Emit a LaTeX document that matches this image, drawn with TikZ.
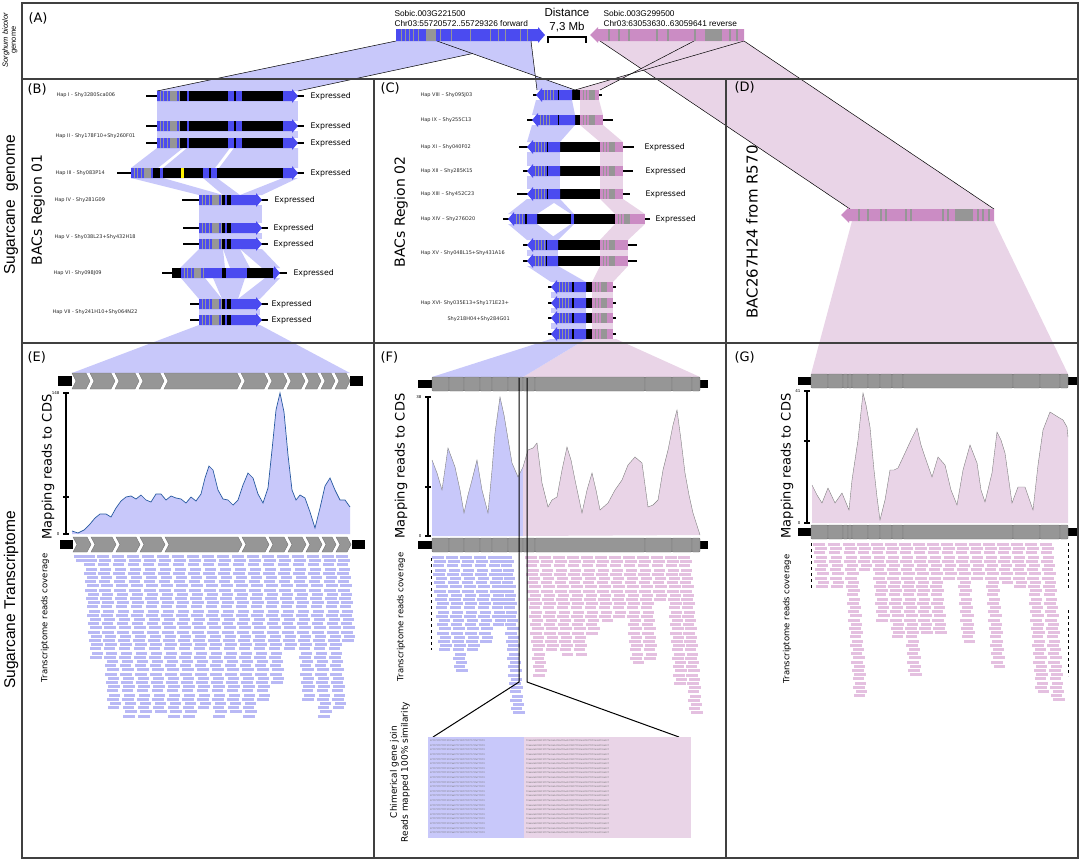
\documentclass[tikz,border=0pt]{standalone}
\usepackage{fontspec}
\setmainfont{DejaVu Sans}
\newfontfamily\narrowfont{Liberation Sans}
\usetikzlibrary{positioning}

\definecolor{geneblue}{RGB}{75,75,240}
\definecolor{bandblue}{RGB}{200,200,250}
\definecolor{genepink}{RGB}{203,140,196}
\definecolor{bandpink}{RGB}{233,212,231}
\definecolor{exongray}{RGB}{150,150,150}
\definecolor{readblue}{RGB}{185,185,245}
\definecolor{readpink}{RGB}{228,192,224}
\definecolor{covline}{RGB}{40,90,160}

\tikzset{
  whisker/.style={line width=1.4pt},
  exon/.style={fill=exongray,draw=black!55,line width=0.4pt},
  axisline/.style={line width=1.3pt},
  frame/.style={draw=black!75,line width=1.2pt},
  link/.style={line width=0.5pt},
  panellabel/.style={font=\fontsize{13}{15}\selectfont,anchor=west},
  haplabel/.style={font=\fontsize{5}{6}\selectfont,anchor=west,text=black!85},
  expressed/.style={font=\fontsize{7.8}{9}\selectfont,anchor=west},
  bigside/.style={font=\fontsize{14}{16}\selectfont,rotate=90},
  ylabel/.style={font=\fontsize{13}{15}\selectfont,rotate=90},
  covlabel/.style={font=\fontsize{8.5}{10}\selectfont,rotate=90},
  ticklabel/.style={font=\fontsize{4}{5}\selectfont,anchor=east},
  sidelabel/.style={font=\narrowfont\fontsize{15.5}{17}\selectfont,rotate=90},
  sobiclabel/.style={font=\narrowfont\fontsize{8.3}{9}\selectfont,anchor=west},
  seqtext/.style={font=\ttfamily\fontsize{2.4}{3}\selectfont,anchor=west,text=black!55,inner sep=0pt},
}

% forward gene of region 01
\newcommand{\bgene}[5]{%
  \draw[whisker] (#1,#5) -- (#4,#5);
  \fill[geneblue] (#2,#5-5) -- (#3-6,#5-5) -- (#3-6,#5-7) -- (#3,#5) -- (#3-6,#5+7) -- (#3-6,#5+5) -- (#2,#5+5) -- cycle;
  \foreach \s in {3,6,10,22} {\fill[exongray] (#2+\s,#5-5) rectangle ++(1.3,10);}
  \fill[exongray] (#2+13,#5-5) rectangle ++(7,10);
}
% reverse gene of region 02
\newcommand{\cgene}[7]{%
  \draw[whisker] (#1,#7) -- (#6,#7);
  \fill[genepink] (#4,#7-5) rectangle (#5,#7+5);
  \fill[black] (#3,#7-5) rectangle (#4,#7+5);
  \fill[geneblue] (#2,#7) -- (#2+6,#7-7) -- (#2+6,#7-5) -- (#3,#7-5) -- (#3,#7+5) -- (#2+6,#7+5) -- (#2+6,#7+7) -- cycle;
  \foreach \s in {8,11,14,17} {\fill[exongray] (#2+\s,#7-5) rectangle ++(1.3,10);}
  \fill[black] ({#2+0.6*(#3-#2)},#7-5) rectangle ++(1.6,10);
  \foreach \s in {3,6} {\fill[exongray] (#4+\s,#7-5) rectangle ++(1.3,10);}
  \fill[exongray] (#4+9,#7-5) rectangle ++(6,10);
}
\newcommand{\band}[7]{\fill[#1] (#2,#4) -- (#3,#4) -- (#6,#7) -- (#5,#7) -- cycle;}
\newcommand{\readcol}[4]{\foreach \r in {0,...,#4} {\fill[#1] ({#2+0.3*\r+2*mod(\r,2)},{#3+4.2*\r}) rectangle ++(11.5,2.9);}}

\def\covE{72/531,78/533,84/530,90/524,95/518,100/514,106/514,111/517,116/508,121/501,126/497,131/496,136/499,141/495,146/500,151/502,156/494,161/494,166/500,171/496,176/498,181/499,186/503,191/497,196/501,201/494,205/478,209/466,213/470,218/490,223/499,228/500,233/505,238/500,243/485,248/473,253/478,258/494,263/503,268/488,272/450,276/410,280/393,284/412,288/455,292/490,296/500,300/495,305/498,310/512,315/528,320/508,325/486,330/478,335/490,340/500,345/500,350/507}
\def\covFb{432/460,437/473,442/490,448/448,455/467,460/490,464/513,468/495,472/480,477/460,482/490,488/513,492/470,495/433,500/397,504/415,507/433,512/463,518/477,523/467}
\def\covFp{523/467,528/450,533/448,537/443,542/483,548/507,552/500,557/497,562/470,567/447,571/460,575/480,582/513,587/490,592/473,596/490,600/510,608/503,615/490,622/480,628/465,635/457,642/463,648/507,653/505,658/500,663/470,668/450,673/425,677/410,681/440,685/473,689/495,693/513,700/535}
\def\covG{812/485,817/495,822/503,828/488,835/503,842/493,849/510,852/480,858/440,863/393,866/405,870/427,874/470,877/497,880/520,885/500,890/470,894/470,898/468,905/453,911/440,917/428,921/445,925/457,932/477,938/457,945/465,951/490,957/505,963/470,970/445,977/463,981/490,985/502,992/473,997/432,1001/440,1005/453,1012/503,1018/487,1025/487,1033/510,1038/465,1043/430,1050/412,1058/417,1063/420,1067/427,1068/437}

\begin{document}
\begin{tikzpicture}[x=1pt,y=-1pt]
\useasboundingbox (0,0) rectangle (1084,862);

% side labels
\node[font=\narrowfont\fontsize{7.5}{8}\selectfont,rotate=90,align=center] (sorghum) at (10,40) {{\itshape Sorghum bicolor}\\genome};
\node[sidelabel] (sgenome) at (11,205) {Sugarcane\ \ genome};
\node[sidelabel] (stransc) at (11,600) {Sugarcane Transcriptome};

% (A) links
\band{bandpink}{600}{744}{41}{850}{994}{209}
\draw[link] (600,41) -- (850,209);
\draw[link] (744,41) -- (994,209);
\band{bandblue}{396}{531}{41}{157}{298}{91}
\draw[link] (396,41) -- (157,91);
\draw[link] (531,41) -- (298,91);
\fill[bandblue] (437,41) -- (531,41) -- (537,90) -- (575,90) -- cycle;
\draw[link] (437,41) -- (575,90);
\draw[link] (531,41) -- (537,90);
\fill[bandpink] (694,41) -- (744,41) -- (575,90) -- (600,90) -- cycle;
\draw[link] (744,41) -- (575,90);
\draw[link] (694,41) -- (600,90);

% (A) sorghum genes
\fill[geneblue] (396,29) -- (538,29) -- (538,27) -- (545,35) -- (538,43) -- (538,41) -- (396,41) -- cycle;
\foreach \s in {401,405,409,413,418,440,451,470,490,498,505,520,527} {\fill[exongray] (\s,29) rectangle ++(1.3,12);}
\fill[exongray] (426,29) rectangle (436,41);
\fill[genepink] (590,35) -- (598,27) -- (598,29) -- (744,29) -- (744,41) -- (598,41) -- (598,43) -- cycle;
\foreach \s in {608,618,628,656,667,694,729,736} {\fill[exongray] (\s,29) rectangle ++(2,12);}
\fill[exongray] (705,29) rectangle (722,41);
\draw[line width=2.5pt] (548,43) -- (548,37) -- (586,37) -- (586,43);
\node[sobiclabel] (sobic1) at (391,14) {Sobic.003G221500};
\node[sobiclabel] (chr1) at (391,24) {Chr03:55720572..55729326 forward};
\node[sobiclabel] (sobic2) at (600,14) {Sobic.003G299500};
\node[sobiclabel] (chr2) at (600,24) {Chr03:63053630..63059641 reverse};
\node[font=\narrowfont\fontsize{11.5}{12}\selectfont] (dist) at (567,12) {Distance};
\node[font=\narrowfont\fontsize{11.5}{12}\selectfont] (mb) at (567,27) {7,3 Mb};

% (B) region 01
\band{bandblue}{157}{298}{101}{157}{298}{121}
\band{bandblue}{157}{298}{131}{157}{298}{138}
\band{bandblue}{157}{183}{148}{131}{158}{168}
\band{bandblue}{187}{230}{148}{163}{215}{168}
\band{bandblue}{234}{298}{148}{219}{298}{168}
\band{bandblue}{131}{163}{178}{199}{223}{195}
\band{bandblue}{203}{217}{178}{223}{240}{195}
\band{bandblue}{283}{298}{178}{240}{262}{195}
\band{bandblue}{199}{262}{205}{199}{262}{223}
\band{bandblue}{199}{262}{233}{199}{262}{239}
\band{bandblue}{199}{223}{249}{180}{225}{268}
\band{bandblue}{223}{240}{249}{230}{250}{268}
\band{bandblue}{240}{262}{249}{262}{280}{268}
\band{bandblue}{181}{205}{278}{199}{222}{299}
\band{bandblue}{213}{245}{278}{222}{238}{299}
\band{bandblue}{265}{280}{278}{238}{260}{299}
\band{bandblue}{199}{260}{309}{199}{260}{315}
\band{bandblue}{199}{260}{325}{72}{350}{373}

\foreach \y in {96,126,143} {
  \bgene{146}{157}{298}{304}{\y}
  \foreach \a/\b in {180/187,189/228,234/236,242/283} {\fill[black] (\a,\y-5) rectangle (\b,\y+5);}
}
\bgene{117}{131}{298}{304}{173}
\foreach \a/\b in {153/160,163/203,209/211,217/283} {\fill[black] (\a,168) rectangle (\b,178);}
\fill[yellow] (181,168) rectangle (183.5,178);
\foreach \w/\y in {182/200,183/228,183/244,190/304,190/320} {
  \bgene{\w}{199}{262}{268}{\y}
  \foreach \a/\b in {222/225,227/231} {\fill[black] (\a,\y-5) rectangle (\b,\y+5);}
}
\bgene{162}{181}{280}{287}{273}
\foreach \a/\b in {172/181,222/226,247/273} {\fill[black] (\a,268) rectangle (\b,278);}

\node[haplabel] (hap1) at (53,95) {Hap I - Shy3280Sca006};
\node[haplabel] (hap2) at (52,136) {Hap II - Shy178F10+Shy260F01};
\node[haplabel] (hap3) at (52,173) {Hap III - Shy083P14};
\node[haplabel] (hap4) at (51,200) {Hap IV - Shy281G09};
\node[haplabel] (hap5) at (51,237) {Hap V - Shy038L23+Shy432H18};
\node[haplabel] (hap6) at (50,273) {Hap VI - Shy098J09};
\node[haplabel] (hap7) at (49,312) {Hap VII - Shy241H10+Shy064N22};
\foreach \x/\y [count=\i] in {307/96,307/126,307/143,307/173,271/200,270/228,270/244,290/273,268/304,268/320}
  {\node[expressed] (exB\i) at (\x,\y) {Expressed};}
\node[bigside] (reg1) at (38,210) {BACs Region 01};

% (C) region 02
\foreach \a/\b/\ya/\c/\d/\yb in {536/572/100/532/575/115,532/575/125/527/560/142,527/560/152/527/560/166,527/560/176/527/560/189,527/560/199/508/537/214,548/560/199/571/574/214,508/537/224/527/558/240,571/574/224/548/558/240,527/558/250/527/558/256,527/558/266/551/586/282,551/586/292/551/586/298,551/586/308/551/586/313,551/586/323/551/586/329}
  {\band{bandblue}{\a}{\b}{\ya}{\c}{\d}{\yb}}
\foreach \a/\b/\ya/\c/\d/\yb in {580/599/100/580/603/115,580/603/125/600/623/142,600/623/152/600/623/166,600/623/176/600/623/189,600/623/199/615/645/214,615/645/224/600/628/240,600/628/250/600/628/256,600/628/266/592/613/282,592/613/292/592/613/298,592/613/308/592/613/313,592/613/323/592/613/329}
  {\band{bandpink}{\a}{\b}{\ya}{\c}{\d}{\yb}}
\band{bandpink}{586}{616}{339}{523}{700}{377}
\band{bandblue}{551}{586}{339}{432}{523}{377}

\cgene{533}{536}{572}{580}{599}{602}{95}
\cgene{527}{532}{575}{580}{603}{613}{120}
\cgene{519}{527}{560}{600}{623}{634}{147}
\cgene{523}{527}{560}{600}{623}{633}{171}
\cgene{517}{527}{560}{600}{623}{630}{194}
\cgene{503}{508}{537}{615}{645}{650}{219}
\fill[geneblue] (571,214) rectangle (574,224);
\foreach \y in {245,261} {\cgene{523}{527}{558}{600}{628}{637}{\y}}
\foreach \y in {287,303,318,334} {\cgene{548}{551}{586}{592}{613}{616}{\y}}

\node[haplabel] (hap8) at (417,95) {Hap VIII – Shy095J03};
\node[haplabel] (hap9) at (417,120) {Hap IX – Shy255C13};
\node[haplabel] (hap11) at (417,147) {Hap XI – Shy040F02};
\node[haplabel] (hap12) at (417,171) {Hap XII – Shy285K15};
\node[haplabel] (hap13) at (417,194) {Hap XIII – Shy452C23};
\node[haplabel] (hap14) at (417,219) {Hap XIV – Shy276O20};
\node[haplabel] (hap15) at (417,253) {Hap XV - Shy048L15+Shy431A16};
\node[haplabel] (hap16) at (417,303) {Hap XVI- Shy035E13+Shy171E23+};
\node[haplabel] (hap16b) at (444,319) {Shy218H04+Shy284G01};
\foreach \x/\y [count=\i] in {641/147,642/171,642/194,652/219}
  {\node[expressed] (exC\i) at (\x,\y) {Expressed};}
\node[bigside] (reg2) at (401,212) {BACs Region 02};

% (D) R570 BAC
\band{bandpink}{852}{994}{221}{811}{1068}{374}
\fill[genepink] (841,215) -- (849,207) -- (849,209) -- (994,209) -- (994,221) -- (849,221) -- (849,223) -- cycle;
\foreach \s in {858,867,880,885,905,910,942,947,977,982,988} {\fill[exongray] (\s,209) rectangle ++(2,12);}
\fill[exongray] (955,209) rectangle (973,221);
\node[bigside,font=\fontsize{15}{17}\selectfont] (bac) at (752,232) {BAC267H24 from R570};

% (E) transcriptome region 01
\fill (58,376) rectangle (72,386);
\fill (350,376) rectangle (363,386);
\fill (60,540) rectangle (73,549);
\fill (352,540) rectangle (365,549);
\foreach \a/\b in {72/90,90/115,115/139,139/164,164/241,241/268,268/287,287/305,305/321,321/335,335/350} {
  \filldraw[exon] (\a,373) -- (\b-4,373) -- (\b,381) -- (\b-4,389) -- (\a,389) -- (\a+4,381) -- cycle;
  \filldraw[exon] (\a+1,537) -- (\b-3,537) -- (\b+1,544.5) -- (\b-3,552) -- (\a+1,552) -- (\a+5,544.5) -- cycle;
}
\fill[bandblue] (72,534) \foreach \x/\y in \covE {-- (\x,\y)} -- (350,534) -- cycle;
\draw[covline,line width=0.7pt] (72,531) \foreach \x/\y in \covE {-- (\x,\y)};
\draw[axisline] (66,393) -- (66,534);
\foreach \t in {393,497,534} {\draw[axisline] (63,\t) -- (69,\t);}
\node[ticklabel] (eTop) at (63,393) {148};
\node[ticklabel] (eBot) at (63,534) {0};
\foreach \cx/\n in {74/1,83/24,97/36,112/38,127/38,142/37,157/38,172/38,187/36,202/38,217/37,232/38,247/34,262/30,277/22,292/34,307/38,322/36,336/20}
  {\readcol{readblue}{\cx}{555}{\n}}
\node[ylabel] (mapE) at (48,467) {Mapping reads to CDS};
\node[covlabel] (covE) at (45,618) {Transcriptome reads coverage};

% (F) transcriptome region 02
\fill (418,380) rectangle (432,388);
\fill (700,380) rectangle (708,388);
\fill (418,541) rectangle (432,549);
\fill (700,541) rectangle (708,549);
\foreach \a/\b in {432/449,449/464,464/480,480/492,492/508,508/519,519/523,523/535,535/645,645/672,672/692,692/700} {
  \filldraw[exon,rounded corners=1pt] (\a,377) rectangle (\b,391);
  \filldraw[exon,rounded corners=1pt] (\a,538) rectangle (\b,552);
}
\fill[bandblue] (432,536) \foreach \x/\y in \covFb {-- (\x,\y)} -- (523,536) -- cycle;
\fill[bandpink] (523,536) \foreach \x/\y in \covFp {-- (\x,\y)} -- cycle;
\draw[black!50,line width=0.4pt] (432,460) \foreach \x/\y in \covFb {-- (\x,\y)} \foreach \x/\y in \covFp {-- (\x,\y)};
\draw[axisline] (428,397) -- (428,536);
\foreach \t in {397,487,536} {\draw[axisline] (425,\t) -- (431,\t);}
\node[ticklabel] (fTop) at (425,397) {38};
\node[ticklabel] (fBot) at (425,536) {0};
\foreach \cx/\n in {432/22,446/27,460/22,474/20,488/16,500/37}
  {\readcol{readblue}{\cx}{556}{\n}}
\foreach \cx/\n in {525/28,539/22,553/23,567/23,581/18,595/15,609/14,623/25,637/24,651/10,665/30,678/37}
  {\readcol{readpink}{\cx}{556}{\n}}
\draw[dashed,line width=0.6pt] (431,558) -- (431,650);
\coordinate (J1) at (519,378);
\coordinate (J2) at (527,378);
\coordinate (J3) at (519,682);
\coordinate (J4) at (527,682);
\coordinate (C1) at (433,737);
\coordinate (C2) at (679,737);
\draw[line width=1pt] (J1) -- (J3) -- (C1);
\draw[line width=1pt] (J2) -- (J4) -- (C2);
\fill[bandblue] (428,737) rectangle (524,838);
\fill[bandpink] (524,737) rectangle (691,838);
\foreach \i in {0,...,20} {
  \node[seqtext] (seqL\i) at (430,{741+4.6*\i}) {GCTTCTCTCTTTTGTCCAATCTCTGCTCTCTCTCTCATTTCTG};
  \node[seqtext] (seqR\i) at (526,{741+4.6*\i}) {TGAAAGAGGTGGTGTTCTACAAGATGAGTCAAGCCGGTCTTGGAGATGCCTCTGAGAGTCAAGCC};
}
\node[ylabel] (mapF) at (401,466) {Mapping reads to CDS};
\node[covlabel] (covF) at (401,617) {Transcriptome reads coverage};
\node[rotate=90,align=center,font=\fontsize{9}{11}\selectfont] (chim) at (400,772) {Chimerical gene join\\Reads mapped 100\% similarity};

% (G) transcriptome R570
\fill (798,377) rectangle (811,385);
\fill (1068,377) rectangle (1077,385);
\fill (798,528) rectangle (811,536);
\fill (1068,528) rectangle (1077,536);
\foreach \a/\b in {811/828,828/843,843/848,848/852,852/868,868/880,880/892,892/903,903/1013,1013/1040,1040/1060,1060/1068} {
  \filldraw[exon,rounded corners=1pt] (\a,374) rectangle (\b,388);
  \filldraw[exon,rounded corners=1pt] (\a,525) rectangle (\b,539);
}
\fill[bandpink] (812,523) \foreach \x/\y in \covG {-- (\x,\y)} -- (1068,523) -- cycle;
\draw[black!50,line width=0.4pt] (812,485) \foreach \x/\y in \covG {-- (\x,\y)};
\draw[axisline] (807,391) -- (807,523);
\foreach \t in {391,441,523} {\draw[axisline] (804,\t) -- (810,\t);}
\node[ticklabel] (gTop) at (804,391) {41};
\node[ticklabel] (gBot) at (804,523) {0};
\foreach \cx/\n in {813/10,828/10,843/36,857/6,871/18,885/22,899/31,913/21,927/21,941/8,955/23,969/8,983/29,997/9,1011/10,1025/35,1040/37}
  {\readcol{readpink}{\cx}{543}{\n}}
\draw[dashed,line width=0.6pt] (811,543) -- (811,588);
\draw[dashed,line width=0.6pt] (1068,543) -- (1068,588);
\draw[dashed,line width=0.6pt] (1068,610) -- (1068,676);
\node[ylabel] (mapG) at (787,466) {Mapping reads to CDS};
\node[covlabel] (covG) at (787,619) {Transcriptome reads coverage};

% frame and panel letters
\draw[frame] (22,3) rectangle (1078,858);
\draw[frame] (22,79) -- (1078,79);
\draw[frame] (22,343) -- (1078,343);
\draw[frame] (374,79) -- (374,858);
\draw[frame] (726,79) -- (726,858);
\node[panellabel] (pA) at (25,18) {(A)};
\node[panellabel] (pB) at (24,89) {(B)};
\node[panellabel] (pC) at (377,88) {(C)};
\node[panellabel] (pD) at (731,87) {(D)};
\node[panellabel] (pE) at (24,357) {(E)};
\node[panellabel] (pF) at (377,357) {(F)};
\node[panellabel] (pG) at (731,357) {(G)};
\end{tikzpicture}
\end{document}
